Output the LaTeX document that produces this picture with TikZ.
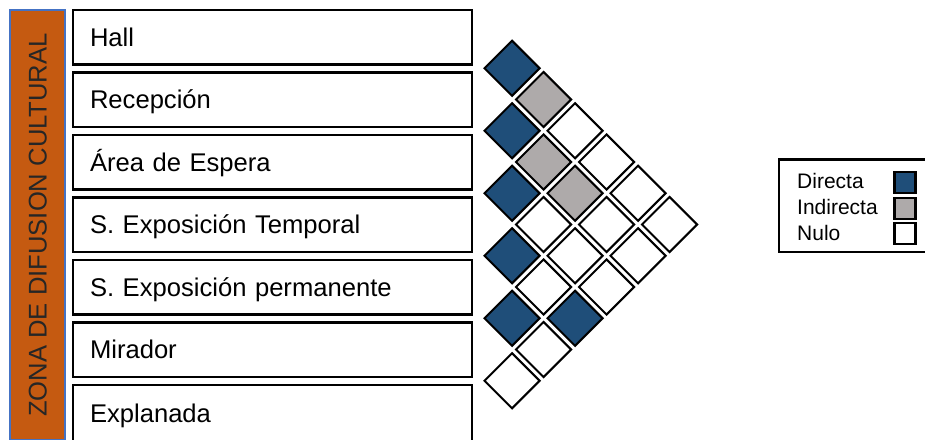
\documentclass[tikz,border=0pt]{standalone}
\usepackage{fontspec}
\setmainfont{Liberation Sans}
\usepackage{xcolor}
\usepackage{tikz}
\usetikzlibrary{shapes.geometric, positioning}
\definecolor{DirectBlue}{HTML}{1F4E79}
\definecolor{IndirectGray}{HTML}{AEAAAA}
\definecolor{ZoneOrange}{HTML}{C55A11}
\definecolor{ZoneEdge}{HTML}{4472C4}

\begin{document}
\begin{tikzpicture}[
    x=1pt, y=-1pt,
    node distance=5.5pt,
    room/.style={draw, line width=2.5pt, text width=365pt, inner xsep=17pt, inner ysep=0pt,
                 minimum height=54.5pt, align=left, text height=18.3pt, text depth=0pt,
                 font=\fontsize{25.6}{30}\selectfont},
    zonebar/.style={draw=ZoneEdge, fill=ZoneOrange, line width=1.5pt, minimum width=430pt,
                    minimum height=55pt, inner sep=0pt, text height=18.3pt, text depth=0pt,
                    text=black!85, font=\fontsize{25.6}{30}\selectfont},
    cell/.style={draw, diamond, shape aspect=1, minimum width=56pt, minimum height=56pt,
                 inner sep=0pt, line width=2pt},
    direct/.style={cell, fill=DirectBlue},
    indirect/.style={cell, fill=IndirectGray},
    none/.style={cell, fill=white},
    keybox/.style={draw, line width=2.8pt, minimum width=21pt, minimum height=21pt, inner sep=0pt},
    keytext/.style={anchor=base west, inner sep=0pt, font=\fontsize{21}{25}\selectfont}
  ]
    \useasboundingbox (0,0) rectangle (925,439);

    % Zone bar
    \node[zonebar, rotate=90] (zone) at (37.5,225) {ZONA DE DIFUSION CULTURAL};

    % Rooms
    \node[room] (hall) at (272.5,37) {Hall};
    \node[room, below=of hall] (recep) {Recepción};
    \node[room, below=of recep] (espera) {Área de Espera};
    \node[room, below=of espera] (temporal) {S. Exposición Temporal};
    \node[room, below=of temporal] (permanente) {S. Exposición permanente};
    \node[room, below=of permanente] (mirador) {Mirador};
    \node[room, below=of mirador, minimum height=58pt] (explanada) {Explanada};

    % Relation matrix, first diagonal
    \node[direct] (cHR) at (512,68.25) {};
    \node[direct] (cRA) at (512,130.75) {};
    \node[direct] (cAT) at (512,193.25) {};
    \node[direct] (cTP) at (512,255.75) {};
    \node[direct] (cPM) at (512,318.25) {};
    \node[none] (cME) at (512,380.75) {};

    % second diagonal
    \node[indirect] (cHA) at (543.5,99.5) {};
    \node[indirect] (cRT) at (543.5,162) {};
    \node[none] (cAP) at (543.5,224.5) {};
    \node[none] (cTM) at (543.5,287) {};
    \node[none] (cPE) at (543.5,349.5) {};

    % third diagonal
    \node[none] (cHT) at (575,130.75) {};
    \node[indirect] (cRP) at (575,193.25) {};
    \node[none] (cAM) at (575,255.75) {};
    \node[direct] (cTE) at (575,318.25) {};

    % outer diagonals
    \node[none] (cHP) at (606.5,162) {};
    \node[none] (cRM) at (606.5,224.5) {};
    \node[none] (cAE) at (606.5,287) {};
    \node[none] (cHM) at (638,193.25) {};
    \node[none] (cRE) at (638,255.75) {};
    \node[none] (cHE) at (669.5,224.5) {};

    % Legend
    \node[draw, line width=2.2pt, minimum width=152pt, minimum height=92.5pt] (legend) at (855,205.75) {};
    \node[keytext] (ldirect) at (797,188) {Directa};
    \node[keytext] (lindirect) at (797,214) {Indirecta};
    \node[keytext] (lnone) at (797,240) {Nulo};
    \node[keybox, fill=DirectBlue] (kdirect) at (905,182.5) {};
    \node[keybox, fill=IndirectGray] (kindirect) at (905,208.5) {};
    \node[keybox, fill=white] (knone) at (905,233.5) {};

  \end{tikzpicture}
\end{document}
